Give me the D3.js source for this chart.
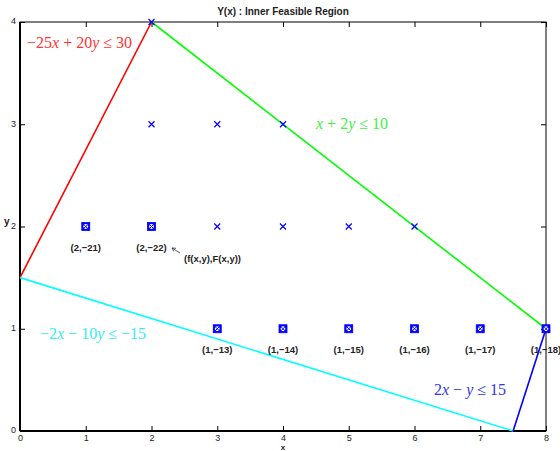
<!DOCTYPE html>
<html>
<head>
<meta charset="utf-8">
<script src="https://cdn.jsdelivr.net/npm/d3@7"></script>
<style>
  body { margin: 0; background: #fff; }
  text { font-family: "Liberation Sans", Arial, sans-serif; }
  .math { font-family: "Liberation Serif", "DejaVu Serif", serif; font-size: 16px; }
</style>
</head>
<body>
<script>
var W = 560, H = 451;
var margin = {left: 20, right: 14, top: 22, bottom: 20};

// plain grid points (x markers)
var crossX = [2, 2, 3, 4, 3, 4, 5, 6];
var crossY = [4, 3, 3, 3, 2, 2, 2, 2];

// boxed points with labels
var boxX = [1, 2, 3, 4, 5, 6, 7, 8];
var boxY = [2, 2, 1, 1, 1, 1, 1, 1];
var boxLabels = ["(2,\u221221)", "(2,\u221222)", "(1,\u221213)", "(1,\u221214)",
                 "(1,\u221215)", "(1,\u221216)", "(1,\u221217)", "(1,\u221218)"];

// constraint lines: [x0, y0, x1, y1]
var lineNames = ["red", "green", "cyan", "blue"];
var lineX0 = [0, 2, 0, 7.5];
var lineY0 = [1.5, 4, 1.5, 0];
var lineX1 = [2, 8, 7.5, 8];
var lineY1 = [4, 1, 0, 1];
var lineColors = ["#ff0000", "#00ff00", "#00ffff", "#0000ff"];

var xTicks = [0, 1, 2, 3, 4, 5, 6, 7, 8];
var yTicks = [0, 1, 2, 3, 4];

var svg = d3.select("body").append("svg")
  .attr("width", W)
  .attr("height", H);

var x = d3.scaleLinear().domain([0, 8]).range([margin.left, W - margin.right]);
var y = d3.scaleLinear().domain([0, 4]).range([H - margin.bottom, margin.top]);

// frame
svg.append("rect")
  .attr("x", x(0)).attr("y", y(4))
  .attr("width", x(8) - x(0)).attr("height", y(0) - y(4))
  .attr("fill", "none").attr("stroke", "#000").attr("stroke-width", 1);
svg.append("line").attr("x1", x(0)).attr("x2", x(8)).attr("y1", y(0)).attr("y2", y(0))
  .attr("stroke", "#000").attr("stroke-width", 2);
svg.append("line").attr("x1", x(0)).attr("x2", x(0)).attr("y1", y(0)).attr("y2", y(4))
  .attr("stroke", "#000").attr("stroke-width", 2);

// axes, ticks inward
var xAxisB = d3.axisBottom(x).tickValues(xTicks).tickSize(-5).tickPadding(4).tickFormat(d3.format("d"));
var xAxisT = d3.axisTop(x).tickValues(xTicks).tickSize(-5).tickFormat("");
var yAxisL = d3.axisLeft(y).tickValues(yTicks).tickSize(-5).tickFormat(d3.format("d"));
var yAxisR = d3.axisRight(y).tickValues(yTicks).tickSize(-5).tickFormat("");

function styleAxis(g) {
  g.select(".domain").remove();
  g.selectAll(".tick line").attr("stroke", "#000");
  g.selectAll(".tick text").attr("font-size", 9).attr("fill", "#222")
    .style("font-family", "Liberation Sans, Arial, sans-serif");
}
svg.append("g").attr("transform", "translate(0," + y(0) + ")").call(xAxisB).call(styleAxis)
  .selectAll(".tick text").attr("y", 4).attr("dy", "0.71em");
svg.append("g").attr("transform", "translate(0," + y(4) + ")").call(xAxisT).call(styleAxis);
svg.append("g").attr("transform", "translate(" + x(0) + ",0)").call(yAxisL).call(styleAxis)
  .selectAll(".tick text").attr("x", -4).attr("dy", "0.2em");
svg.append("g").attr("transform", "translate(" + x(8) + ",0)").call(yAxisR).call(styleAxis);

// constraint lines
svg.selectAll("line.con")
  .data(lineNames)
  .enter()
  .append("line")
  .attr("class", "con")
  .attr("x1", function(d, i) { return x(lineX0[i]); })
  .attr("y1", function(d, i) { return y(lineY0[i]); })
  .attr("x2", function(d, i) { return x(lineX1[i]); })
  .attr("y2", function(d, i) { return y(lineY1[i]); })
  .attr("stroke", function(d, i) { return lineColors[i]; })
  .attr("stroke-width", 1.6);

// x markers
var s = 3;
svg.selectAll("path.cross")
  .data(crossX)
  .enter()
  .append("path")
  .attr("class", "cross")
  .attr("d", function(d, i) {
    var cx = x(d), cy = y(crossY[i]);
    return "M" + (cx - s) + "," + (cy - s) + "L" + (cx + s) + "," + (cy + s) +
           "M" + (cx - s) + "," + (cy + s) + "L" + (cx + s) + "," + (cy - s);
  })
  .attr("stroke", "#0000ff")
  .attr("stroke-width", 1.2)
  .attr("fill", "none");

// boxed markers
var box = svg.selectAll("g.box")
  .data(boxX)
  .enter()
  .append("g")
  .attr("class", "box")
  .attr("transform", function(d, i) { return "translate(" + x(d) + "," + y(boxY[i]) + ")"; });
box.append("rect")
  .attr("x", -4).attr("y", -4).attr("width", 8).attr("height", 8)
  .attr("fill", "#0000ff").attr("stroke", "#0000ff").attr("stroke-width", 0.8);
box.append("circle")
  .attr("r", 2.4).attr("fill", "#fff");
box.append("path")
  .attr("d", "M-2,-2L2,2M-2,2L2,-2")
  .attr("stroke", "#0000ff").attr("stroke-width", 1);

// point labels
svg.selectAll("text.plabel")
  .data(boxLabels)
  .enter()
  .append("text")
  .attr("class", "plabel")
  .attr("x", function(d, i) { return x(boxX[i]); })
  .attr("y", function(d, i) { return y(boxY[i]) + 24; })
  .attr("text-anchor", "middle")
  .attr("font-size", 9.5)
  .attr("font-weight", "bold")
  .attr("fill", "#222")
  .text(function(d) { return d; });

// annotation
svg.append("text")
  .attr("x", 184).attr("y", 262)
  .attr("font-size", 9.5).attr("font-weight", "bold").attr("fill", "#222")
  .text("(f(x,y),F(x,y))");
svg.append("path")
  .attr("d", "M180,253L172,248M172,248L176,248.3M172,248L173.8,251.4")
  .attr("stroke", "#333").attr("stroke-width", 0.8).attr("fill", "none");

// title and axis labels
svg.append("text")
  .attr("x", (x(0) + x(8)) / 2).attr("y", 15)
  .attr("text-anchor", "middle").attr("font-size", 10).attr("font-weight", "bold")
  .attr("fill", "#222")
  .text("Y(x) : Inner Feasible Region");
svg.append("text")
  .attr("x", (x(0) + x(8)) / 2).attr("y", 450)
  .attr("text-anchor", "middle").attr("font-size", 8).attr("font-weight", "bold")
  .attr("fill", "#222")
  .text("x");
svg.append("text")
  .attr("x", 4).attr("y", 225)
  .attr("font-size", 10).attr("font-weight", "bold")
  .attr("fill", "#222")
  .text("y");

// constraint labels (math style)
function mathLabel(px, py, color, parts) {
  var t = svg.append("text").attr("class", "math")
    .attr("x", px).attr("y", py).attr("fill", color);
  parts.forEach(function(p) {
    t.append("tspan")
      .attr("font-style", p[1] ? "italic" : "normal")
      .text(p[0]);
  });
}
mathLabel(27, 48, "#ff3333", [["\u221225", 0], ["x", 1], [" + 20", 0], ["y", 1], [" \u2264 30", 0]]);
mathLabel(316, 129, "#44ee44", [["x", 1], [" + 2", 0], ["y", 1], [" \u2264 10", 0]]);
mathLabel(40, 339, "#33eeee", [["\u22122", 0], ["x", 1], [" \u2212 10", 0], ["y", 1], [" \u2264 \u221215", 0]]);
mathLabel(434, 395, "#3333ee", [["2", 0], ["x", 1], [" \u2212 ", 0], ["y", 1], [" \u2264 15", 0]]);
</script>
</body>
</html>
